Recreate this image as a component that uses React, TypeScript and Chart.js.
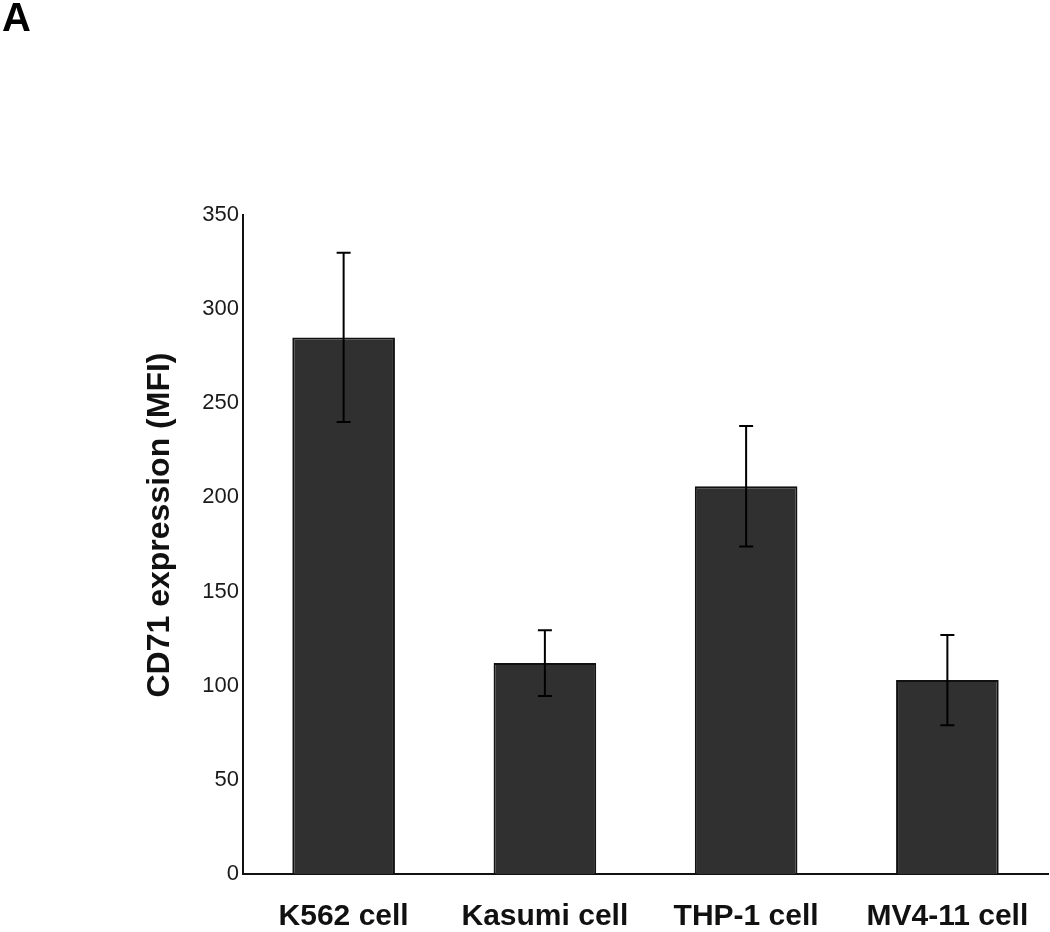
import React, { useEffect, useRef } from "react";
import { Chart, registerables } from "chart.js";

Chart.register(...registerables);

const categories = ["K562 cell", "Kasumi cell", "THP-1 cell", "MV4-11 cell"];
const means = [285, 112, 206, 103];
const errors = [45, 17.5, 32, 24];
const yTicks = [0, 50, 100, 150, 200, 250, 300, 350];
const yTitle = "CD71 expression (MFI)";
const panelLabel = "A";

const FONT = "'Liberation Sans', Arial, sans-serif";

const errorBarPlugin = {
  id: "errorBars",
  afterDatasetsDraw(chart: any) {
    const ctx = chart.ctx;
    const meta = chart.getDatasetMeta(0);
    const y = chart.scales.y;
    ctx.save();
    ctx.strokeStyle = "#000";
    ctx.lineWidth = 2;
    meta.data.forEach((bar: any, i: number) => {
      const x = bar.x;
      const top = y.getPixelForValue(means[i] + errors[i]);
      const bot = y.getPixelForValue(means[i] - errors[i]);
      const cap = 7;
      ctx.beginPath();
      ctx.moveTo(x, top);
      ctx.lineTo(x, bot);
      ctx.moveTo(x - cap, top);
      ctx.lineTo(x + cap, top);
      ctx.moveTo(x - cap, bot);
      ctx.lineTo(x + cap, bot);
      ctx.stroke();
    });
    ctx.restore();
  },
};

const yTitlePlugin = {
  id: "yTitle",
  afterDraw(chart: any) {
    const ctx = chart.ctx;
    ctx.save();
    ctx.translate(160, 525);
    ctx.rotate(-Math.PI / 2);
    ctx.font = `bold 32px ${FONT}`;
    ctx.fillStyle = "#111";
    ctx.textAlign = "center";
    ctx.textBaseline = "middle";
    ctx.fillText(yTitle, 0, 0);
    ctx.restore();
  },
};

export default function App() {
  const ref = useRef<HTMLCanvasElement>(null);
  useEffect(() => {
    if (!ref.current) return;
    const chart = new Chart(ref.current, {
      type: "bar",
      data: {
        labels: categories,
        datasets: [
          {
            data: means,
            backgroundColor: "#303030",
            borderColor: "#111",
            borderWidth: 2,
            barPercentage: 0.51,
            categoryPercentage: 1,
          },
        ],
      },
      options: {
        responsive: false,
        animation: false,
        events: [],
        layout: { padding: { top: 215, right: 2, left: 0, bottom: 0 } },
        plugins: {
          legend: { display: false },
          tooltip: { enabled: false },
        },
        scales: {
          x: {
            grid: { display: false, drawTicks: false },
            border: { display: true, color: "#111", width: 2 },
            ticks: {
              color: "#111",
              font: { family: FONT, size: 30, weight: "bold" },
              padding: 25,
              maxRotation: 0,
              autoSkip: false,
            },
            afterFit(scale: any) {
              scale.height = 58;
              scale.paddingLeft = 0;
              scale.paddingRight = 0;
            },
          },
          y: {
            min: 0,
            max: 350,
            afterBuildTicks(scale: any) {
              scale.ticks = yTicks.map((v) => ({ value: v }));
            },
            grid: { display: false, drawTicks: false },
            border: { display: true, color: "#111", width: 2 },
            ticks: {
              color: "#1a1a1a",
              font: { family: FONT, size: 22 },
              padding: 4,
            },
            afterFit(scale: any) {
              scale.width = 243;
            },
          },
        },
      },
      plugins: [errorBarPlugin, yTitlePlugin],
    });
    return () => chart.destroy();
  }, []);
  return (
    <div style={{ position: "absolute", left: 0, top: 0, width: 1050, height: 932, background: "#fff" }}>
      <div
        style={{
          position: "absolute",
          left: 2,
          top: -3,
          fontFamily: FONT,
          fontWeight: "bold",
          fontSize: 40,
          color: "#000",
          lineHeight: "40px",
        }}
      >
        {panelLabel}
      </div>
      <canvas ref={ref} width={1050} height={932} style={{ display: "block" }} />
    </div>
  );
}
